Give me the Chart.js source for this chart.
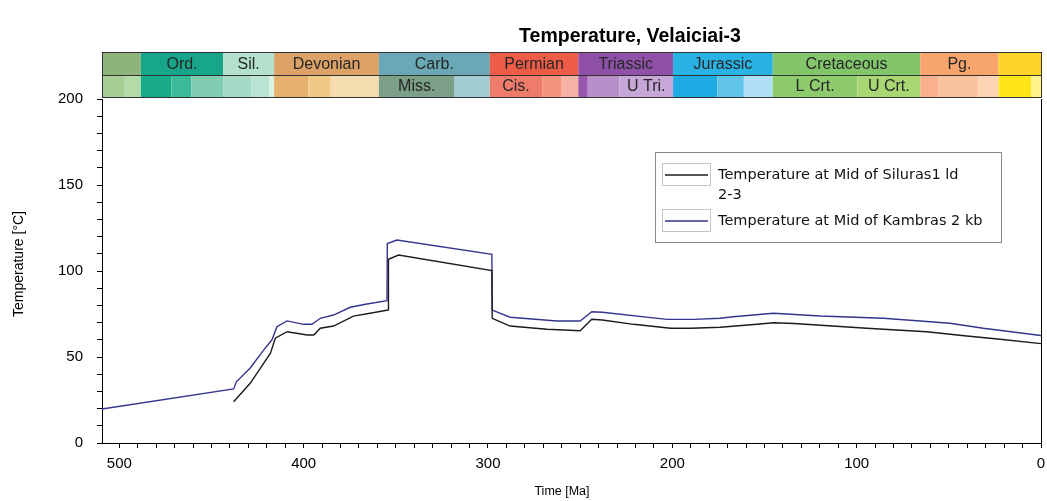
<!DOCTYPE html>
<html>
<head>
<meta charset="utf-8">
<script src="https://cdn.jsdelivr.net/npm/chart.js@4.4.1/dist/chart.umd.min.js"></script>
<style>
  html, body { margin: 0; padding: 0; background: #fff; }
  #wrap { width: 1047px; height: 501px; position: relative; }
</style>
</head>
<body>
<div id="wrap"><canvas id="tempChart"></canvas></div>
<script>
// Temperature histories (age in Ma, temperature in °C)
const silurasAge  = [438, 429, 418, 415.4, 409, 398, 394.5, 391, 383.8, 373, 364, 354.2, 354, 348.5,
                     297.9, 297.7, 288, 268, 250, 243.7, 238, 221, 201, 190, 174, 152.4, 145.2, 134,
                     94.5, 62, 40.3, 22.2, 0];
const silurasTemp = [24, 34.7, 52.2, 60.9, 64.7, 62.8, 62.8, 66.7, 68, 73.8, 75.4, 77.3, 106.8, 109.3,
                     100.2, 72.5, 68, 66.1, 65.3, 71.9, 71.5, 69, 66.7, 66.7, 67.3, 69.2, 69.9, 69.5,
                     66.7, 64.7, 62.2, 60.3, 57.8];

const kambrasAge  = [509.4, 438, 436.5, 429, 421.7, 417.2, 414.5, 409, 400, 395.5, 391, 383.8, 374.7,
                     365.7, 354.8, 354.6, 349.4, 297.9, 297.7, 288, 262.6, 250, 243.7, 238, 203, 188.6,
                     174, 166.9, 145.2, 138, 119.9, 85.5, 67.4, 49.4, 31.3, 0];
const kambrasTemp = [19.8, 31.4, 35.6, 43.6, 54, 60, 67.6, 71, 69, 69, 72.5, 74.4, 78.9,
                     80.8, 82.7, 116, 118, 109.7, 77.3, 73.1, 70.9, 70.9, 76.3, 76, 71.9, 71.9,
                     72.5, 73.4, 75.4, 75, 73.8, 72.5, 71.1, 69.6, 66.7, 62.5];

// Geologic periods (upper row)
const periodNames  = ['', 'Ord.', 'Sil.', 'Devonian', 'Carb.', 'Permian', 'Triassic', 'Jurassic', 'Cretaceous', 'Pg.', ''];
const periodBase   = [542, 488.3, 443.7, 416, 359.2, 299, 251, 199.6, 145.5, 65.5, 23];
const periodEnd    = [488.3, 443.7, 416, 359.2, 299, 251, 199.6, 145.5, 65.5, 23, 0];
const periodColors = ['#8fb47b', '#17a689', '#b4e1cb', '#dca267', '#69a8b4', '#ee5c48',
                      '#8f51a8', '#29b2e4', '#82c56b', '#f8a56d', '#fed428'];

// Epochs (lower row)
const epochNames  = ['', '', '', '', '', '', '', '', '', '', '', 'Miss.', '', 'Cis.', '', '',
                     '', '', 'U Tri.', '', '', '', 'L Crt.', 'U Crt.', '', '', '', '', ''];
const epochBase   = [542, 497, 488.3, 471.8, 460.9, 443.7, 428.2, 418.7, 416, 397.5, 385.3, 359.2, 318.1, 299, 270.6, 260.4,
                     251, 245.9, 228.7, 199.6, 175.6, 161.2, 145.5, 99.6, 65.5, 55.8, 33.9, 23, 5.3];
const epochEnd    = [497, 488.3, 471.8, 460.9, 443.7, 428.2, 418.7, 416, 397.5, 385.3, 359.2, 318.1, 299, 270.6, 260.4, 251,
                     245.9, 228.7, 199.6, 175.6, 161.2, 145.5, 99.6, 65.5, 55.8, 33.9, 23, 5.3, 0];
const epochColors = ['#a8ce96', '#b3dba7', '#18ab8a', '#3bba99', '#80ccb0', '#a6dac7', '#b9e3d3', '#d9f0e5',
                     '#e5b16d', '#f1c885', '#f4dcaf', '#7b9f87', '#9fcdd3', '#ef7b6a', '#f6937f', '#f8b1a5',
                     '#9a55ae', '#b790c9', '#c7a7d8', '#1eaae3', '#5fc3ea', '#afe0f5', '#8dcb6d', '#a8d673',
                     '#f8b18c', '#fbc29e', '#fcd3b3', '#ffe619', '#fff38c'];

const xLabels = [500, 400, 300, 200, 100, 0];
const yLabels = [0, 50, 100, 150, 200];

const tickFont = { family: 'Liberation Sans, Arial, sans-serif', size: 15 };

function toPoints(ages, temps) {
  return ages.map((a, i) => ({ x: a, y: temps[i] }));
}

function everyTen(max) {
  const out = [];
  for (let v = 0; v <= max; v += 10) out.push({ value: v });
  return out;
}

// draws one row of the time-scale strip
function drawRow(ctx, xs, area, names, from, to, colors, y0, h) {
  for (let i = 0; i < names.length; i++) {
    let a = xs.getPixelForValue(from[i]);
    let b = xs.getPixelForValue(to[i]);
    a = Math.max(a, area.left);
    b = Math.min(b, area.right);
    if (b <= a) continue;
    ctx.fillStyle = colors[i];
    ctx.fillRect(a, y0, b - a, h);
    if (names[i]) {
      ctx.fillStyle = '#262626';
      ctx.fillText(names[i], (a + b) / 2, y0 + h / 2 + 1);
    }
  }
}

const timeStrip = {
  id: 'timeStrip',
  afterDraw(chart) {
    const { ctx, chartArea, scales } = chart;
    const top = chartArea.top - 47;
    const mid = chartArea.top - 24;
    const bottom = chartArea.top - 2;
    ctx.save();
    ctx.font = '16px "Liberation Sans", Arial, sans-serif';
    ctx.textAlign = 'center';
    ctx.textBaseline = 'middle';
    drawRow(ctx, scales.x, chartArea, periodNames, periodBase, periodEnd, periodColors, top, mid - top);
    drawRow(ctx, scales.x, chartArea, epochNames, epochBase, epochEnd, epochColors, mid, bottom - mid);
    ctx.strokeStyle = '#333';
    ctx.lineWidth = 1;
    ctx.strokeRect(chartArea.left + 0.5, top + 0.5, chartArea.right - chartArea.left, bottom - top);
    ctx.beginPath();
    ctx.moveTo(chartArea.left, mid + 0.5);
    ctx.lineTo(chartArea.right + 1, mid + 0.5);
    ctx.stroke();

    // right-hand frame of the plot
    ctx.strokeStyle = '#000';
    ctx.beginPath();
    ctx.moveTo(chartArea.right + 0.5, chartArea.top);
    ctx.lineTo(chartArea.right + 0.5, chartArea.bottom);
    ctx.stroke();

    // titles
    ctx.fillStyle = '#000';
    ctx.font = 'bold 19.5px "Liberation Sans", Arial, sans-serif';
    ctx.fillText('Temperature, Velaiciai-3', 630, 37);
    ctx.font = '12.5px "Liberation Sans", Arial, sans-serif';
    ctx.fillText('Time [Ma]', 562, 492);
    ctx.font = '14px "Liberation Sans", Arial, sans-serif';
    ctx.translate(19, 264);
    ctx.rotate(-Math.PI / 2);
    ctx.fillText('Temperature [°C]', 0, 0);
    ctx.restore();
  }
};

const boxLegend = {
  id: 'boxLegend',
  afterDraw(chart) {
    const ctx = chart.ctx;
    const left = 655, top = 152, width = 346, height = 90;
    ctx.save();
    ctx.fillStyle = '#fff';
    ctx.fillRect(left, top, width, height);
    ctx.strokeStyle = '#8a8a8a';
    ctx.lineWidth = 1;
    ctx.strokeRect(left + 0.5, top + 0.5, width, height);

    ctx.font = '14.5px "DejaVu Sans", Tahoma, sans-serif';
    ctx.textBaseline = 'middle';
    ctx.textAlign = 'left';
    let y = top + 23;
    chart.data.datasets.forEach(ds => {
      ctx.strokeStyle = '#c4c4c4';
      ctx.strokeRect(left + 7.5, y - 11.5, 48, 22);
      ctx.strokeStyle = ds.borderColor;
      ctx.lineWidth = 1.5;
      ctx.beginPath();
      ctx.moveTo(left + 10, y);
      ctx.lineTo(left + 53, y);
      ctx.stroke();
      ctx.lineWidth = 1;
      ctx.fillStyle = '#111';
      ds.label.split('\n').forEach((ln, i) => ctx.fillText(ln, left + 63, y + i * 20));
      y += 46;
    });
    ctx.restore();
  }
};

new Chart(document.getElementById('tempChart'), {
  type: 'line',
  data: {
    datasets: [
      {
        label: 'Temperature at Mid of Siluras1 ld\n2-3',
        data: toPoints(silurasAge, silurasTemp),
        borderColor: '#1c1c1c',
        borderWidth: 1.4,
        pointRadius: 0,
        tension: 0
      },
      {
        label: 'Temperature at Mid of Kambras 2 kb',
        data: toPoints(kambrasAge, kambrasTemp),
        borderColor: '#35358f',
        borderWidth: 1.4,
        pointRadius: 0,
        tension: 0
      }
    ]
  },
  options: {
    responsive: true,
    maintainAspectRatio: false,
    animation: false,
    layout: { padding: { left: 52, top: 99, right: 6, bottom: 28 } },
    plugins: {
      legend: { display: false },
      tooltip: { enabled: false }
    },
    scales: {
      x: {
        type: 'linear',
        reverse: true,
        min: 0,
        max: 509.4,
        afterBuildTicks: (s) => { s.ticks = everyTen(500); },
        afterFit: (s) => { s.height = 30; },
        ticks: {
          autoSkip: false,
          maxRotation: 0,
          padding: 7,
          color: '#000',
          font: tickFont,
          callback: (v) => xLabels.includes(v) ? String(v) : ''
        },
        grid: { drawOnChartArea: false, tickLength: 5, tickColor: '#000' },
        border: { color: '#000', width: 1 }
      },
      y: {
        min: 0,
        max: 200,
        afterBuildTicks: (s) => { s.ticks = everyTen(200); },
        afterFit: (s) => { s.width = 50; },
        ticks: {
          autoSkip: false,
          padding: 14,
          color: '#000',
          font: tickFont,
          callback: (v) => yLabels.includes(v) ? String(v) : ''
        },
        grid: { drawOnChartArea: false, tickLength: 5, tickColor: '#000' },
        border: { color: '#000', width: 1 }
      }
    }
  },
  plugins: [timeStrip, boxLegend]
});
</script>
</body>
</html>
